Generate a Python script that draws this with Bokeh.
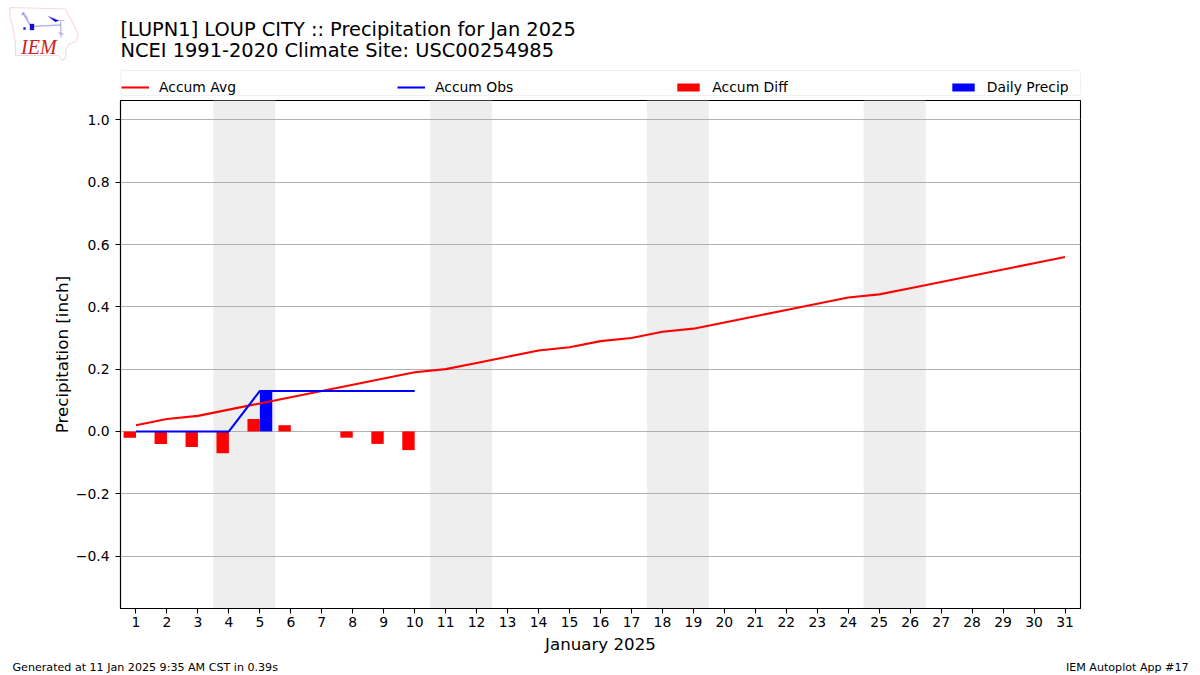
from bokeh.plotting import figure
from bokeh.layouts import column
from bokeh.models import BoxAnnotation, Label, Legend, LegendItem, PolyAnnotation, FixedTicker, Range1d
from bokeh.embed import file_html
from bokeh.resources import INLINE

days = list(range(1, 32))
accum_avg = [0.02,0.04,0.05,0.07,0.09,0.11,0.13,0.15,0.17,0.19,0.20,0.22,0.24,0.26,0.27,0.29,
             0.30,0.32,0.33,0.35,0.37,0.39,0.41,0.43,0.44,0.46,0.48,0.50,0.52,0.54,0.56]
obs_days = [1,2,3,4,5,6,7,8,9,10]
accum_obs = [0,0,0,0,0.13,0.13,0.13,0.13,0.13,0.13]
accum_diff = [-0.02,-0.04,-0.05,-0.07,0.04,0.02,0.0,-0.02,-0.04,-0.06]
daily_precip = [0,0,0,0,0.13,0,0,0,0,0]
weekend_starts = [4, 11, 18, 25]
y_ticks = [-0.4,-0.2,0.0,0.2,0.4,0.6,0.8,1.0]
y_labels = ["\u22120.4","\u22120.2","0.0","0.2","0.4","0.6","0.8","1.0"]
title_lines = ["[LUPN1] LOUP CITY :: Precipitation for Jan 2025", "NCEI 1991-2020 Climate Site: USC00254985"]
footer_left = "Generated at 11 Jan 2025 9:35 AM CST in 0.39s"
footer_right = "IEM Autoplot App #17"
legend_labels = ["Accum Avg", "Accum Obs", "Accum Diff", "Daily Precip"]
FONT = "DejaVu Sans"

W = 1200
HEAD_H, FOOT_H = 99, 17
Y0, Y1 = -0.5685, 1.0625

p = figure(width=W, height=675 - HEAD_H - FOOT_H, output_backend="svg", toolbar_location=None,
           x_range=Range1d(0.5, 31.5), y_range=Range1d(Y0, Y1), frame_align=False,
           min_border_left=120, min_border_right=120, min_border_top=1, min_border_bottom=50)
p.background_fill_color = "white"
p.outline_line_color = "black"
p.outline_line_width = 1.1

p.xgrid.visible = False
p.ygrid.grid_line_color = "#b0b0b0"
p.ygrid.grid_line_width = 1.1
p.ygrid.ticker = FixedTicker(ticks=y_ticks)

for ax, ticks in ((p.xaxis[0], days), (p.yaxis[0], y_ticks)):
    ax.ticker = FixedTicker(ticks=ticks)
    ax.major_tick_out = 5
    ax.major_tick_in = 0
    ax.minor_tick_line_color = None
    ax.major_tick_line_color = "black"
    ax.major_tick_line_width = 1.1
    ax.axis_line_color = "black"
    ax.axis_line_width = 1.1
    ax.major_label_text_font = FONT
    ax.major_label_text_font_size = "13.9px"
    ax.major_label_text_color = "black"
    ax.axis_label_text_font = FONT
    ax.axis_label_text_font_size = "16.67px"
    ax.axis_label_text_font_style = "normal"
    ax.axis_label_text_color = "black"
p.xaxis[0].major_label_standoff = 3
p.xaxis[0].axis_label_standoff = 5
p.yaxis[0].major_label_standoff = 6
p.yaxis[0].axis_label_standoff = 1
p.yaxis[0].major_label_overrides = dict(zip(y_ticks, y_labels))
p.xaxis[0].axis_label = "January 2025"
p.yaxis[0].axis_label = "Precipitation [inch]"

p.quad(left=[d - 0.5 for d in weekend_starts], right=[d + 1.5 for d in weekend_starts],
       bottom=Y0, top=Y1, fill_color="#eeeeee", line_color=None, level="underlay")
p.vbar(x=[d - 0.2 for d in obs_days], top=accum_diff, bottom=0, width=0.4,
       fill_color="red", line_color=None)
p.vbar(x=[d + 0.2 for d in obs_days], top=daily_precip, bottom=0, width=0.4,
       fill_color="blue", line_color=None)
p.line(days, accum_avg, line_color="red", line_width=2.08)
p.line(obs_days, accum_obs, line_color="blue", line_width=2.08)


def blank(height):
    f = figure(width=W, height=height, output_backend="svg", toolbar_location=None,
               x_range=Range1d(0, W), y_range=Range1d(0, height), frame_align=False,
               x_axis_location=None, y_axis_location=None, min_border=0)
    f.grid.visible = False
    f.outline_line_color = None
    return f


head = blank(HEAD_H)
foot = blank(FOOT_H)

# legend keys live in the header band, above the plot frame (their one point is off-range)
k_avg = head.line([-50, -40], [-50, -50], line_color="red", line_width=2.08)
k_obs = head.line([-50, -40], [-50, -50], line_color="blue", line_width=2.08)
k_diff = head.vbar(x=[-50], top=[-50], bottom=[-60], width=1, fill_color="red", line_color=None)
k_prec = head.vbar(x=[-50], top=[-50], bottom=[-60], width=1, fill_color="blue", line_color=None)
legend = Legend(items=[LegendItem(label=s, renderers=[r]) for s, r in
                       zip(legend_labels, (k_avg, k_obs, k_diff, k_prec))],
                orientation="horizontal", location=(121, 4), spacing=161,
                glyph_width=28, glyph_height=10, label_standoff=10, padding=5, margin=0,
                label_text_font=FONT, label_text_font_size="13.9px", label_text_color="black",
                label_height=14, border_line_color=None, background_fill_alpha=0)
head.add_layout(legend, "center")
head.add_layout(BoxAnnotation(left=120.5, right=1080, bottom=HEAD_H - 95, top=HEAD_H - 70,
                              left_units="screen", right_units="screen",
                              bottom_units="screen", top_units="screen",
                              line_color="#cccccc", line_width=1.1, fill_alpha=0,
                              border_radius=3))


def text(f, x, y_top, s, size, align="left", font=FONT, color="black", style="normal"):
    f.add_layout(Label(x=x, y=f.height - y_top, x_units="screen", y_units="screen", text=s,
                       text_font=font, text_font_size=size, text_color=color, text_align=align,
                       text_baseline="middle", text_font_style=style))


text(head, 120, 29, title_lines[0], "19.4px")
text(head, 120, 50, title_lines[1], "19.4px")
text(foot, 12, 8.5, footer_left, "11.1px")
text(foot, 1188, 8.5, footer_right, "11.1px", "right")


def poly(xs, ys, color, width=1.0, fill=None):
    head.add_layout(PolyAnnotation(xs=xs, ys=[HEAD_H - y for y in ys],
                                   xs_units="screen", ys_units="screen",
                                   line_color=color, line_width=width,
                                   fill_color=fill, fill_alpha=1.0 if fill else 0))


BLUE = "#1212cc"
poly([9.5,65,68,71,75,78,75,68.5,65,65.5,62,58,15,15,12,9.5],
     [7,8.5,15,20,28,35,41.5,43.5,50,56.5,60,55,55,43,25,17], "#e08080", 1.1)
poly([31,60], [26,24.5], BLUE, 1.6)
poly([22,26,28,30], [12,16,22,25], BLUE, 1.6)
poly([21,24], [14.5,12], BLUE, 1.2)
poly([60,60.5], [21,37], BLUE, 1.4)
poly([48,58,55,48], [16,20,21.5,16], BLUE, 1, BLUE)
poly([55,64], [20,20], BLUE, 1.2)
poly([58,63], [32,34], BLUE, 1.2)
poly([29.5,33.5,33.5,29.5], [23.5,23.5,29.5,29.5], BLUE, 1, BLUE)
poly([23,25,25,23], [27,27,29,29], BLUE, 1, BLUE)
text(head, 20.5, 46, "IEM", "20px", font="Liberation Serif", color="#cc2222", style="italic")

layout = column(head, p, foot, spacing=0)
open("out.html", "w").write(file_html(layout, INLINE))
